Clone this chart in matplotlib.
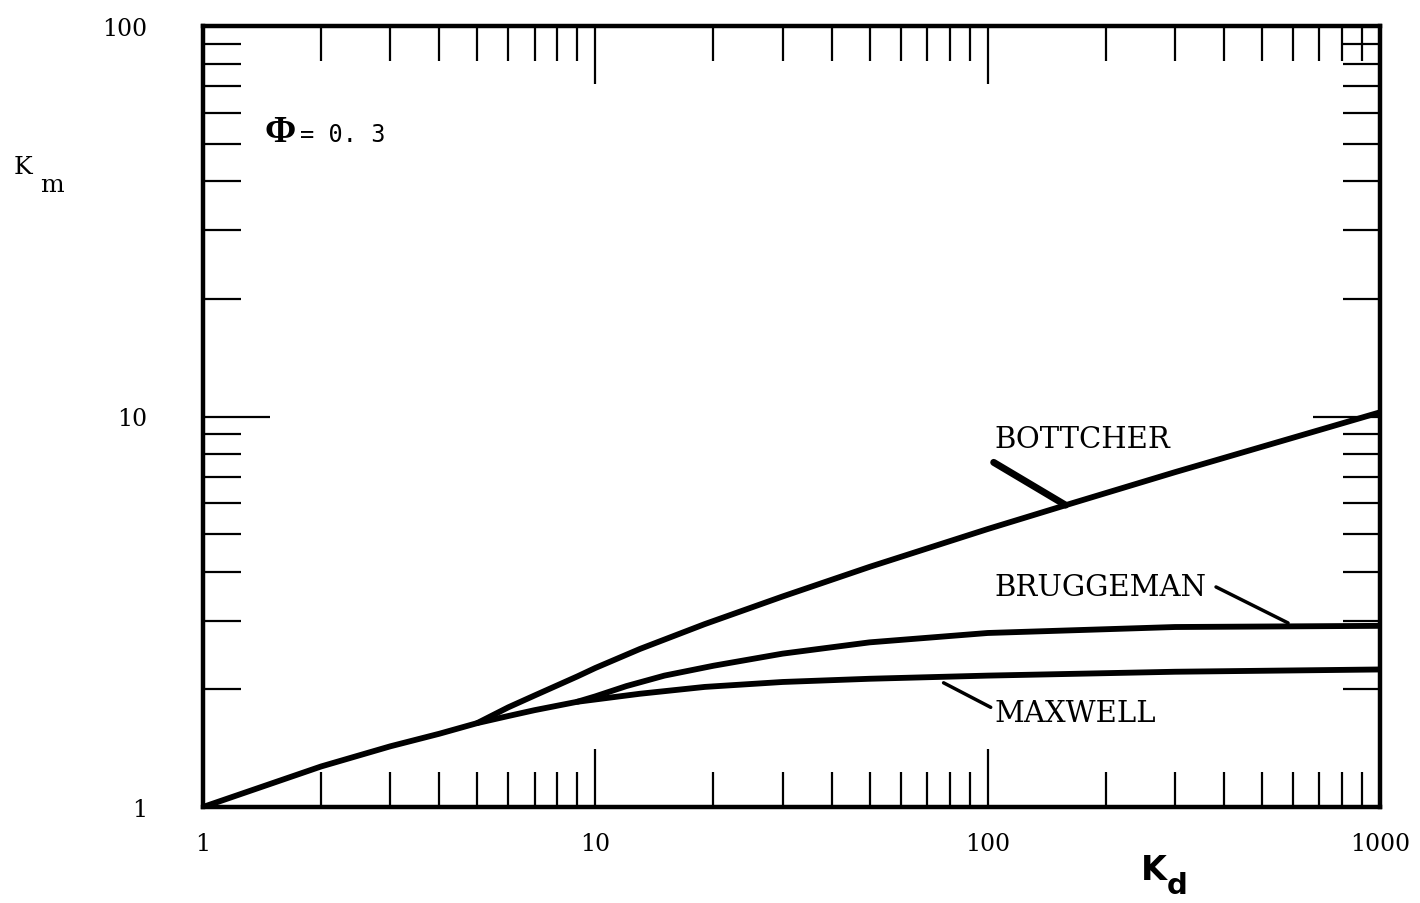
import matplotlib
matplotlib.use("Agg")
import matplotlib.pyplot as plt
from matplotlib.ticker import LogLocator, NullFormatter

plt.rcParams['font.family'] = ['DejaVu Serif']

# ---------------- data (phi = 0.3) ----------------
kd_maxwell = [1, 2, 3, 4, 5, 6, 7, 9, 13, 19, 30, 50, 100, 300, 1000]
km_maxwell = [1.0, 1.27, 1.43, 1.54, 1.64, 1.71, 1.77, 1.86, 1.95, 2.03, 2.09, 2.13, 2.17, 2.22, 2.25]

kd_brugg = [9, 10, 12, 15, 20, 30, 50, 100, 300, 1000]
km_brugg = [1.86, 1.92, 2.04, 2.17, 2.30, 2.47, 2.64, 2.79, 2.89, 2.91]

kd_bott = [5, 6, 7, 9, 10, 13, 19, 30, 50, 100, 160, 300, 1000]
km_bott = [1.64, 1.80, 1.93, 2.16, 2.27, 2.54, 2.94, 3.46, 4.12, 5.15, 5.95, 7.2, 10.25]

x_ticks = [1, 10, 100, 1000]
x_labels = ['1', '10', '100', '1000']
y_ticks = [1, 10, 100]
y_labels = ['1', '10', '100']

W, H = 1420, 904


def fx(px):
    return px / W


def fy(py):
    return 1 - py / H


fig = plt.figure(figsize=(14.2, 9.04), dpi=100)
ax = fig.add_axes([fx(203), fy(808), (1380 - 203) / W, (808 - 27) / H])

lw = 4.2
for kd, km in [(kd_maxwell, km_maxwell), (kd_brugg, km_brugg), (kd_bott, km_bott)]:
    ax.plot(kd, km, color='black', lw=lw, solid_capstyle='round', solid_joinstyle='round')

ax.set_xscale('log')
ax.set_yscale('log')
ax.set_xlim(1, 1000)
ax.set_ylim(1, 100)
ax.set_xticks(x_ticks)
ax.set_xticklabels(x_labels)
ax.set_yticks(y_ticks)
ax.set_yticklabels(y_labels)
ax.xaxis.set_minor_locator(LogLocator(base=10, subs=range(2, 10)))
ax.yaxis.set_minor_locator(LogLocator(base=10, subs=range(2, 10)))
ax.xaxis.set_minor_formatter(NullFormatter())
ax.yaxis.set_minor_formatter(NullFormatter())

for s in ax.spines.values():
    s.set_linewidth(3.2)

ax.tick_params(which='both', direction='in', top=True, right=True,
               width=1.6, labelsize=17, colors='black')
ax.tick_params(axis='x', which='major', length=42, pad=18)
ax.tick_params(axis='x', which='minor', length=25)
ax.tick_params(axis='y', which='major', length=48, pad=40)
ax.tick_params(axis='y', which='minor', length=27)

# curve labels with leader lines
ax.text(104, 8.74, 'BOTTCHER', fontsize=21, va='center', ha='left')
ax.annotate('', xy=(158, 5.93), xytext=(103.6, 7.63),
            arrowprops=dict(arrowstyle='-', lw=5, color='black', shrinkA=0, shrinkB=0))

ax.text(104, 3.66, 'BRUGGEMAN', fontsize=21, va='center', ha='left')
ax.annotate('', xy=(583, 2.96), xytext=(382, 3.66),
            arrowprops=dict(arrowstyle='-', lw=2.5, color='black', shrinkA=0, shrinkB=0))

ax.text(104, 1.74, 'MAXWELL', fontsize=21, va='center', ha='left')
ax.annotate('', xy=(101.8, 1.80), xytext=(77.2, 2.08),
            arrowprops=dict(arrowstyle='-', lw=2.5, color='black', shrinkA=0, shrinkB=0))

# phi annotation
fig.text(fx(280), fy(133), 'Φ', fontsize=27, fontweight='bold', family='Liberation Serif',
         va='center', ha='center')
fig.text(fx(300), fy(135), '= 0. 3', fontsize=17, family='DejaVu Sans Mono', va='center', ha='left')

# axis labels
fig.text(fx(14), fy(168), 'K', fontsize=18, va='center', ha='left')
fig.text(fx(40), fy(186), 'm', fontsize=18, va='center', ha='left')

fig.text(fx(1141), fy(871), 'K', fontsize=24, fontweight='bold', family='DejaVu Sans',
         va='center', ha='left')
fig.text(fx(1167), fy(886), 'd', fontsize=21, fontweight='bold', family='DejaVu Sans',
         va='center', ha='left')

fig.savefig('out.png', dpi=100)
